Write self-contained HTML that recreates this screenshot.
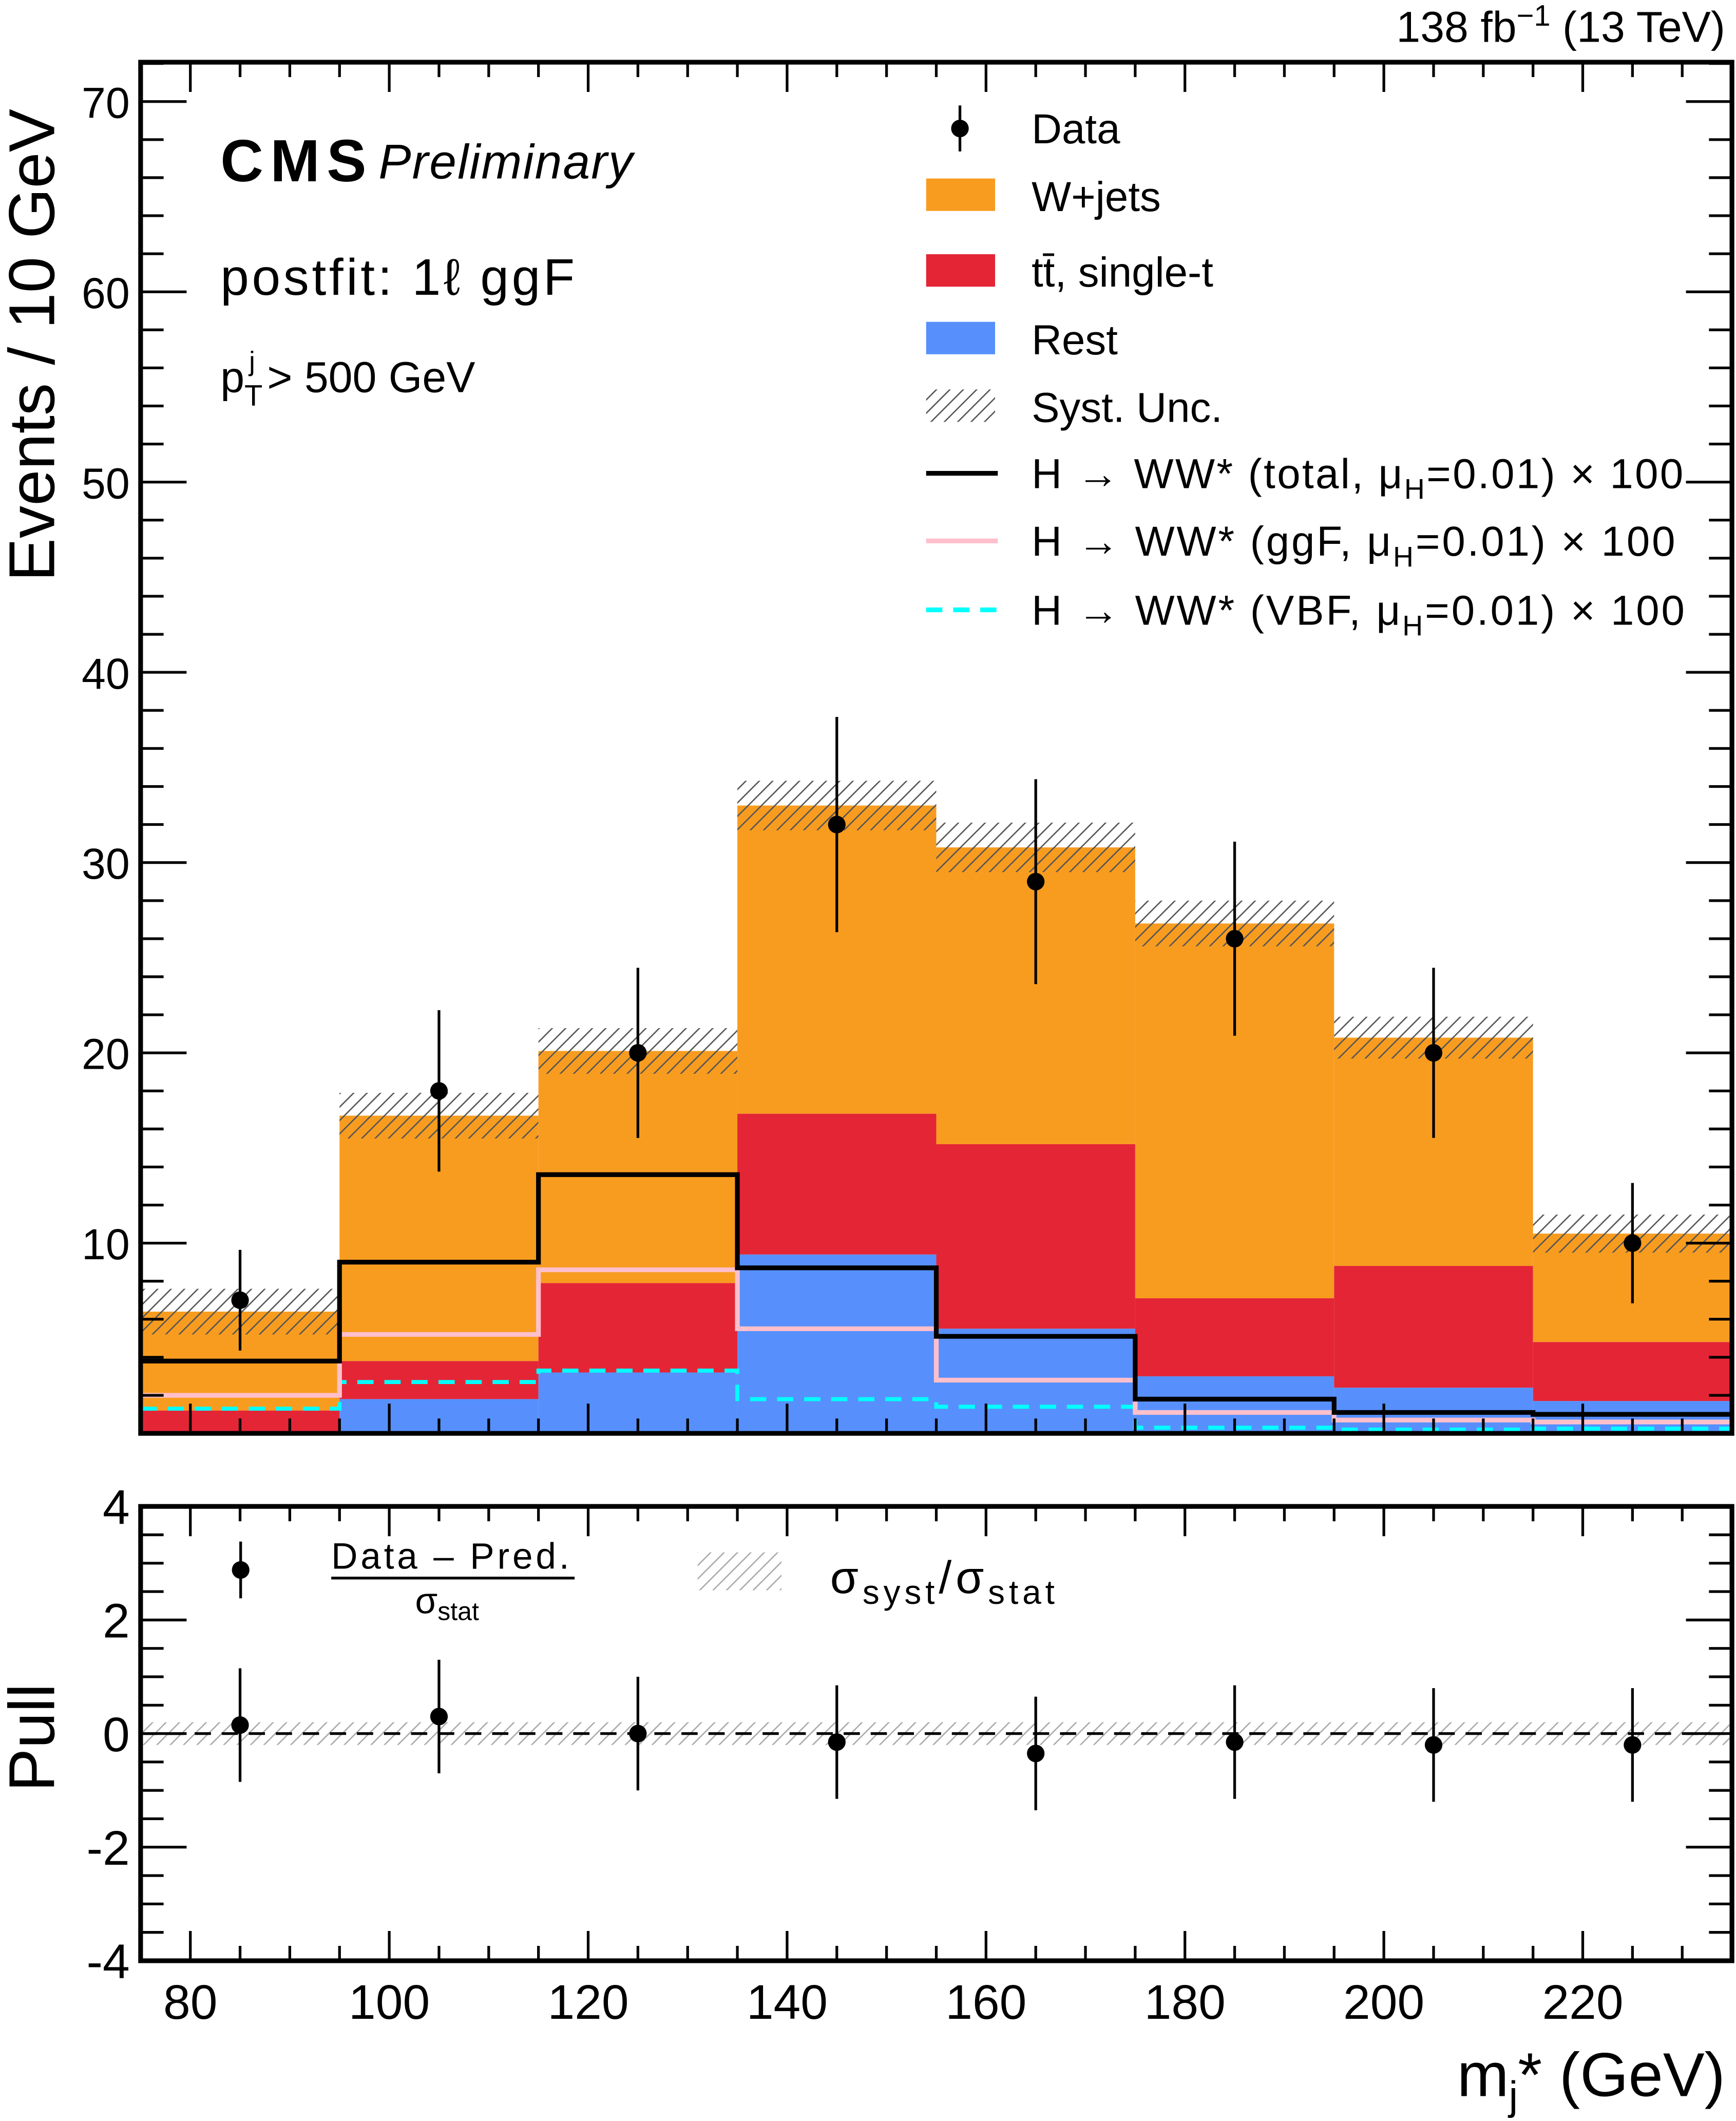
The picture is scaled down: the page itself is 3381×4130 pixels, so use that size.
<!DOCTYPE html>
<html><head><meta charset="utf-8"><style>
html,body{margin:0;padding:0;background:#fff;}
svg{display:block;font-family:"Liberation Sans",sans-serif;}
</style></head><body>
<svg id="c" width="3381" height="4130" viewBox="0 0 1284 1568.5" preserveAspectRatio="none" xmlns="http://www.w3.org/2000/svg">
<defs>
<pattern id="hatch" patternUnits="userSpaceOnUse" width="7" height="7" patternTransform="rotate(45)">
<rect width="7" height="7" fill="none"/><line x1="0" y1="0" x2="0" y2="7" stroke="#555" stroke-width="2"/>
</pattern>
<pattern id="hatchL" patternUnits="userSpaceOnUse" width="7" height="7" patternTransform="rotate(45)">
<line x1="0" y1="0" x2="0" y2="7" stroke="#aaa" stroke-width="2"/>
</pattern>
</defs>
<g id="main"></g>
</svg>
<script>
const edges=[75,95,115,135,155,175,195,215,235];
const dataVals=[7,18,20,32,29,26,20,10];
const restVals=[0,1.8,3.2,9.4,5.5,3.0,2.4,1.7];
const ttVals=[1.2,2.0,4.7,7.4,9.7,4.1,6.4,3.1];
const wjVals=[5.2,12.9,12.2,16.2,15.6,19.7,12.0,5.7];
const systVals=[1.2,1.2,1.2,1.3,1.3,1.2,1.1,1.0];
const hTotal=[3.8,9.0,13.6,8.7,5.1,1.8,1.1,1.0];
const hGGF=[2.0,5.2,8.6,5.5,2.8,1.1,0.7,0.6];
const hVBF=[1.3,2.7,3.3,1.8,1.4,0.3,0.2,0.25];
const pullVals=[0.15,0.3,0.0,-0.15,-0.35,-0.15,-0.2,-0.2];
const xTicks=[80,100,120,140,160,180,200,220];
const yTicks=[10,20,30,40,50,60,70];
const pTicks=[-4,-2,0,2,4];

const NS="http://www.w3.org/2000/svg";
const g=document.getElementById('main');
const L=104,R=1281,T=46,B=1060,PT=1114,PB=1450;
const X=v=>L+(v-75)*(R-L)/160;
const Y=v=>B-v*14.07;
const P=v=>1282-v*42;
function el(t,a,p){const e=document.createElementNS(NS,t);for(const k in a)e.setAttribute(k,a[k]);(p||g).appendChild(e);return e;}
function txt(s,x,y,size,anchor,extra){const e=el('text',Object.assign({x:x,y:y,'font-size':size,'text-anchor':anchor||'start'},extra||{}));e.innerHTML=s;return e;}

for(let i=0;i<8;i++){
  const x0=X(edges[i]),x1=X(edges[i+1]);
  const r=restVals[i],t=r+ttVals[i],w=t+wjVals[i];
  let e;
  e=el('rect',{x:x0,y:Y(w),width:x1-x0,height:Y(t)-Y(w),fill:'#f89c20'});
  
  e=el('rect',{x:x0,y:Y(t),width:x1-x0,height:Y(r)-Y(t),fill:'#e42536'});
  
  e=el('rect',{x:x0,y:Y(r),width:x1-x0,height:Y(0)-Y(r),fill:'#5790fc'});
  
  e=el('rect',{x:x0,y:Y(w+systVals[i]),width:x1-x0,height:Y(w-systVals[i])-Y(w+systVals[i]),fill:'url(#hatch)'});
  
}
function step(vals,color,dash,w,name){
  let d='';
  for(let i=0;i<8;i++){d+=(i?'L':'M')+X(edges[i])+','+Y(vals[i])+'L'+X(edges[i+1])+','+Y(vals[i]);}
  const a={d:d,fill:'none',stroke:color,'stroke-width':w};
  if(dash)a['stroke-dasharray']=dash;
  const e=el('path',a);
  
}
step(hVBF,'#00ffff','12,8',3,'hww-vbf-line');
step(hGGF,'#ffc0cb',null,3.5,'hww-ggf-line');
step(hTotal,'#000',null,3.5,'hww-total-line');
for(let i=0;i<8;i++){
  const cx=X((edges[i]+edges[i+1])/2),v=dataVals[i],s=Math.sqrt(v);
  let e=el('line',{x1:cx,x2:cx,y1:Y(v+s),y2:Y(Math.max(0,v-s)),stroke:'#000','stroke-width':2});
  
  e=el('circle',{cx:cx,cy:Y(v),r:6.5,fill:'#000'});
  
}
el('rect',{x:L,y:P(0.2),width:R-L,height:P(-0.2)-P(0.2),fill:'url(#hatchL)'});
el('line',{x1:L,x2:R,y1:P(0),y2:P(0),stroke:'#000','stroke-width':2,'stroke-dasharray':'12,8'});
for(let i=0;i<8;i++){
  const cx=X((edges[i]+edges[i+1])/2),v=pullVals[i];
  let e=el('line',{x1:cx,x2:cx,y1:P(v+1),y2:P(v-1),stroke:'#000','stroke-width':2});
  
  e=el('circle',{cx:cx,cy:P(v),r:6.5,fill:'#000'});
  
}
el('rect',{x:L,y:T,width:R-L,height:B-T,fill:'none',stroke:'#000','stroke-width':3.5});
el('rect',{x:L,y:PT,width:R-L,height:PB-PT,fill:'none',stroke:'#000','stroke-width':3.5});
for(let v=75;v<=235;v+=5){
  const x=X(v),big=v%20==0,len=big?22:11;
  el('line',{x1:x,x2:x,y1:B,y2:B-len,stroke:'#000','stroke-width':2});
  el('line',{x1:x,x2:x,y1:T,y2:T+len,stroke:'#000','stroke-width':2});
  el('line',{x1:x,x2:x,y1:PB,y2:PB-len,stroke:'#000','stroke-width':2});
  el('line',{x1:x,x2:x,y1:PT,y2:PT+len,stroke:'#000','stroke-width':2});
}
xTicks.forEach(v=>{const e=txt(v,X(v),1493,36,'middle');});
for(let v=0;v<=72;v+=2){
  const y=Y(v),big=v%10==0,len=big?34:17;
  el('line',{x1:L,x2:L+len,y1:y,y2:y,stroke:'#000','stroke-width':2});
  el('line',{x1:R,x2:R-len,y1:y,y2:y,stroke:'#000','stroke-width':2});
}
yTicks.forEach(v=>{const e=txt(v,96,Y(v)+12,32,'end');});
for(let v=-4;v<=4;v+=0.5){
  const y=P(v),big=Number.isInteger(v)&&v%2==0,len=big?34:17;
  el('line',{x1:L,x2:L+len,y1:y,y2:y,stroke:'#000','stroke-width':2});
  el('line',{x1:R,x2:R-len,y1:y,y2:y,stroke:'#000','stroke-width':2});
}
pTicks.forEach(v=>{const e=txt(v,96,P(v)+13,36,'end');});
</script>
<script>
(function(){
const s=document.getElementById('c');
s.insertAdjacentHTML('beforeend',`
<text x="1276" y="31" font-size="32" text-anchor="end">138 fb<tspan dy="-12" font-size="22">−1</tspan><tspan dy="12"> (13 TeV)</tspan></text>
<text transform="translate(40,430) rotate(-90)" font-size="48" text-anchor="start">Events / 10 GeV</text>
<text transform="translate(40,1325) rotate(-90)" font-size="48">Pull</text>
<text x="1276" y="1550" font-size="46" text-anchor="end">m<tspan dy="10" font-size="30">j</tspan><tspan dy="-10">* (GeV)</tspan></text>
<text x="163" y="134" font-size="44" font-weight="bold" textLength="108">CMS</text>
<text x="280" y="132" font-size="36" font-style="italic" textLength="188">Preliminary</text>
<text x="163" y="218" font-size="38" textLength="262">postfit: 1ℓ ggF</text>
<text x="163" y="290" font-size="32">p<tspan dy="10" font-size="22">T</tspan><tspan dx="-10" dy="-26" font-size="20">j</tspan><tspan dy="16"> &gt; 500 GeV</tspan></text>
<g font-size="31">
<line x1="710" x2="710" y1="78" y2="112" stroke="#000" stroke-width="2"/><circle cx="710" cy="95" r="6.5"/>
<text x="763" y="106">Data</text>
<rect x="685" y="132" width="51" height="24" fill="#f89c20"/><text x="763" y="156">W+jets</text>
<rect x="685" y="188" width="51" height="24" fill="#e42536"/><text x="763" y="212">tt̄, single-t</text>
<rect x="685" y="238" width="51" height="24" fill="#5790fc"/><text x="763" y="262">Rest</text>
<rect x="685" y="288" width="51" height="24" fill="url(#hatch)"/><text x="763" y="312">Syst. Unc.</text>
<line x1="685" x2="738" y1="350" y2="350" stroke="#000" stroke-width="3.5"/><text x="763" y="361" textLength="482">H → WW* (total, μ<tspan dy="8" font-size="21">H</tspan><tspan dy="-8">=0.01) × 100</tspan></text>
<line x1="685" x2="738" y1="400" y2="400" stroke="#ffc0cb" stroke-width="3.5"/><text x="763" y="411" textLength="476">H → WW* (ggF, μ<tspan dy="8" font-size="21">H</tspan><tspan dy="-8">=0.01) × 100</tspan></text>
<line x1="685" x2="738" y1="451" y2="451" stroke="#00ffff" stroke-width="3.5" stroke-dasharray="12,8"/><text x="763" y="462" textLength="483">H → WW* (VBF, μ<tspan dy="8" font-size="21">H</tspan><tspan dy="-8">=0.01) × 100</tspan></text>
</g>
<g>
<line x1="178" x2="178" y1="1140" y2="1182" stroke="#000" stroke-width="2"/><circle cx="178" cy="1161" r="6.5"/>
<text x="245" y="1160" font-size="27" textLength="176">Data  –  Pred.</text>
<line x1="245" x2="425" y1="1167" y2="1167" stroke="#000" stroke-width="2"/>
<text x="307" y="1193" font-size="27">σ<tspan dy="5" font-size="19">stat</tspan></text>
<rect x="516" y="1148" width="62" height="28" fill="url(#hatchL)"/>
<text x="614" y="1178" font-size="34" textLength="166">σ<tspan dy="8" font-size="25">syst</tspan><tspan dy="-8">/σ</tspan><tspan dy="8" font-size="25">stat</tspan></text>
</g>`);
})();
</script>
</body></html>
